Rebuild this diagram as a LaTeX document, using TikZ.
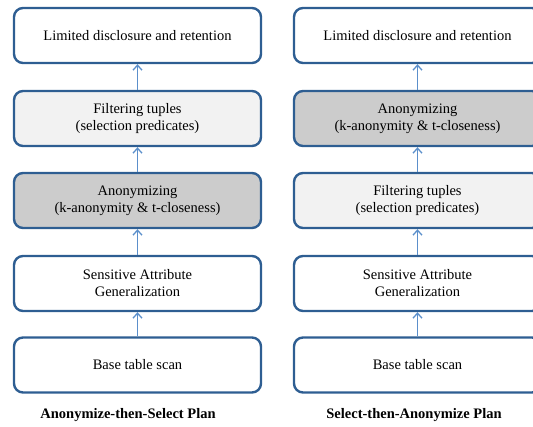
\documentclass[tikz,border=0pt]{standalone}
\usepackage{fontspec}
\setmainfont{Liberation Serif}
\usetikzlibrary{positioning,arrows.meta}
\definecolor{boxline}{HTML}{2E5E92}
\definecolor{flowline}{HTML}{5B8FCB}
\definecolor{anonfill}{HTML}{CCCCCC}
\definecolor{filterfill}{HTML}{F2F2F2}
\newcommand{\anontext}{Anonymizing\\(k-anonymity \& t-closeness)}
\newcommand{\filtertext}{Filtering tuples\\(selection predicates)}

\begin{document}
\begin{tikzpicture}[x=1pt,y=-1pt,font=\fontsize{14.5}{17}\selectfont]
    \tikzstyle{operator} = [draw=boxline,line width=2.4pt,rounded corners=9pt,minimum width=247pt,minimum height=55pt,align=center,inner sep=0pt]
    \tikzstyle{flow} = [-{Straight Barb[length=5pt,width=9pt,line width=1.3pt]},flowline,line width=1.3pt]
    \tikzstyle{plan} = [font=\fontsize{14.5}{17}\selectfont\bfseries]
    \useasboundingbox (0,0) rectangle (533,426);
    \clip (0,0) rectangle (533,426);
      % anonymize first
      \node[operator] (aDisc) at (137.5,35.5) {Limited disclosure and retention};
      \node[operator,fill=filterfill] (aFilter) at (137.5,118.5) {\filtertext};
      \node[operator,fill=anonfill] (aAnon) at (137.5,200.5) {\anontext};
      \node[operator] (aGen) at (137.5,283.5) {Sensitive Attribute\\Generalization};
      \node[operator] (aScan) at (137.5,365) {Base table scan};
      \node[plan] (aPlan) at (128,415) {Anonymize-then-Select Plan};
      % select first
      \node[operator] (sDisc) at (417.5,35.5) {Limited disclosure and retention};
      \node[operator,fill=anonfill] (sAnon) at (417.5,118.5) {\anontext};
      \node[operator,fill=filterfill] (sFilter) at (417.5,200.5) {\filtertext};
      \node[operator] (sGen) at (417.5,283.5) {Sensitive Attribute\\Generalization};
      \node[operator] (sScan) at (417.5,365) {Base table scan};
      \node[plan] (sPlan) at (414,415) {Select-then-Anonymize Plan};
      \foreach \a/\b in {aScan/aGen,aGen/aAnon,aAnon/aFilter,aFilter/aDisc,sScan/sGen,sGen/sFilter,sFilter/sAnon,sAnon/sDisc} \draw[flow] (\a) -- (\b);
  \end{tikzpicture}
\end{document}
